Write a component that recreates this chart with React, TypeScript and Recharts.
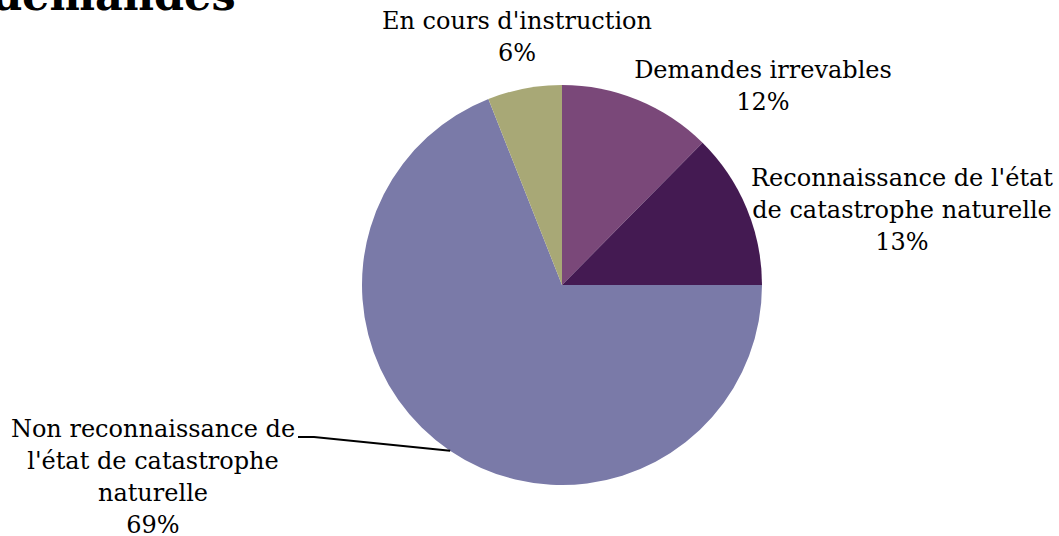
import * as React from "react"
import { PieChart, Pie, Cell } from "recharts"

// parts of the demandes
const categories = [
  "Demandes irrevables",
  "Reconnaissance de l'état de catastrophe naturelle",
  "Non reconnaissance de l'état de catastrophe naturelle",
  "En cours d'instruction",
]
const shares = [12.4, 12.6, 69, 6]
// how each label is broken into lines, as in the picture
const labelLines = [
  ["Demandes irrevables"],
  ["Reconnaissance de l'état", "de catastrophe naturelle"],
  ["Non reconnaissance de", "l'état de catastrophe", "naturelle"],
  ["En cours d'instruction"],
]
const colors = ["#7A4879", "#441A52", "#7A7AA8", "#A8A876"]

const data = categories.map((name, i) => ({ name, value: shares[i] }))

const FONT = "'DejaVu Serif', serif"
const LINE_H = 32
// label block offsets from pie centre (first line baseline)
const labelOffsets = [
  { dx: 201, dy: -207 },
  { dx: 340, dy: -99 },
  { dx: -409, dy: 152 },
  { dx: -45, dy: -256 },
]
// where the leader of the big slice touches the rim (degrees, ccw from east)
const LEADER_ANGLE = 236

function renderLabel(props: any) {
  const { cx, cy, index, percent, outerRadius } = props
  const off = labelOffsets[index]
  const lines = [...labelLines[index], `${Math.round(percent * 100)}%`]
  const x = cx + off.dx
  const y = cy + off.dy
  let leader = null
  if (index === 2) {
    const rad = (Math.PI / 180) * LEADER_ANGLE
    const px = cx + outerRadius * Math.cos(rad)
    const py = cy - outerRadius * Math.sin(rad)
    leader = (
      <polyline
        points={`${px},${py} ${cx - 248},${cy + 152} ${cx - 264},${cy + 152}`}
        fill="none"
        stroke="#000"
        strokeWidth={2}
      />
    )
  }
  return (
    <g key={`lbl-${index}`}>
      {leader}
      <text x={x} y={y} textAnchor="middle" fontFamily={FONT} fontSize={24} fill="#000">
        {lines.map((l, i) => (
          <tspan key={i} x={x} dy={i === 0 ? 0 : LINE_H}>
            {l}
          </tspan>
        ))}
      </text>
    </g>
  )
}

export default function App() {
  return (
    <div style={{ position: "absolute", left: 0, top: 0, width: 1059, height: 536, background: "#fff", overflow: "hidden" }}>
      <div
        style={{
          position: "absolute",
          left: -8,
          top: -31,
          fontFamily: FONT,
          fontWeight: "bold",
          fontSize: 43,
          lineHeight: "52px",
          color: "#000",
          whiteSpace: "nowrap",
        }}
      >
        demandes
      </div>
      <PieChart width={1059} height={536} margin={{ top: 0, right: 0, bottom: 0, left: 0 }}>
        <Pie
          data={data}
          dataKey="value"
          nameKey="name"
          cx={562}
          cy={285}
          outerRadius={200}
          startAngle={90}
          endAngle={-270}
          stroke="none"
          label={renderLabel}
          labelLine={false}
          isAnimationActive={false}
        >
          {data.map((d, i) => (
            <Cell key={d.name} fill={colors[i]} />
          ))}
        </Pie>
      </PieChart>
    </div>
  )
}
